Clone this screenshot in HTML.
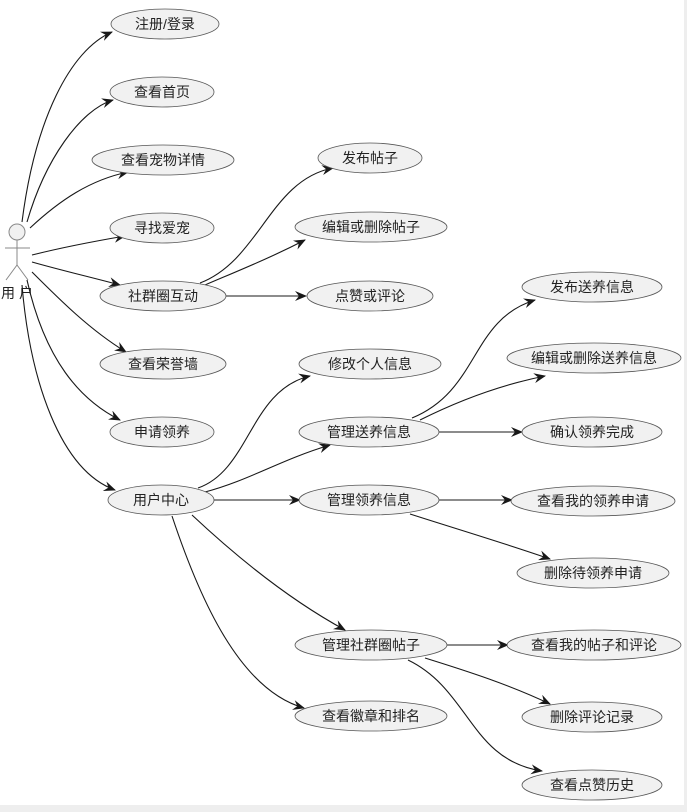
<!DOCTYPE html>
<html><head><meta charset="utf-8"><style>
body{margin:0;background:#fff}
svg{display:block}
text{font-family:"Liberation Sans","Noto Sans CJK SC",sans-serif;font-size:14px;fill:#222;text-anchor:middle;dominant-baseline:central}
.e{fill:#f1f1f1;stroke:#555;stroke-width:0.8}
.l{fill:none;stroke:#181818;stroke-width:1.1;marker-end:url(#a)}
</style></head><body>
<svg width="687" height="812" viewBox="0 0 687 812">
<defs><marker id="a" viewBox="0 0 12 10" refX="11" refY="5" markerWidth="12" markerHeight="10" markerUnits="userSpaceOnUse" orient="auto"><path d="M0,0 L12,5 L0,10 L4,5 Z" fill="#181818"/></marker></defs>
<rect x="0" y="805" width="687" height="7" fill="#eeeeee"/>
<rect x="684" y="0" width="3" height="812" fill="#eeeeee"/>
<g stroke="#888" stroke-width="1" fill="none">
<circle cx="17" cy="232" r="8" fill="#f1f1f1"/>
<line x1="17" y1="240" x2="17" y2="265"/>
<line x1="5" y1="248" x2="30" y2="248"/>
<line x1="17" y1="265" x2="6" y2="280"/>
<line x1="17" y1="265" x2="28" y2="280"/>
</g>
<text x="19" y="293" style="letter-spacing:4px">用户</text>
<path class="l" d="M22,222 C35,120 70,50 112,32"/>
<path class="l" d="M27,222 C45,160 80,110 113,100"/>
<path class="l" d="M30,228 C60,200 90,180 128,172"/>
<path class="l" d="M32,255 C60,248 90,242 125,236"/>
<path class="l" d="M32,262 C60,270 90,277 120,285"/>
<path class="l" d="M32,272 C60,300 90,330 126,352"/>
<path class="l" d="M27,280 C45,360 80,400 120,420"/>
<path class="l" d="M22,285 C30,380 60,470 115,490"/>
<path class="l" d="M200,283 C260,260 270,180 333,168"/>
<path class="l" d="M205,285 C240,270 270,258 305,240"/>
<path class="l" d="M226,296 L306,296"/>
<path class="l" d="M198,488 C250,470 250,390 310,376"/>
<path class="l" d="M205,492 C250,480 280,460 330,445"/>
<path class="l" d="M214,500 L300,500"/>
<path class="l" d="M192,515 C240,560 290,600 345,630"/>
<path class="l" d="M172,516 C200,600 240,690 304,708"/>
<path class="l" d="M412,418 C480,390 470,320 535,300"/>
<path class="l" d="M420,420 C460,400 500,385 545,376"/>
<path class="l" d="M439,432 L522,432"/>
<path class="l" d="M439,500 L512,500"/>
<path class="l" d="M410,514 C460,530 510,545 550,559"/>
<path class="l" d="M447,645 L508,645"/>
<path class="l" d="M425,658 C470,672 510,685 550,704"/>
<path class="l" d="M408,660 C470,690 470,760 542,771"/>
<g>
<ellipse class="e" cx="165" cy="24" rx="54" ry="15"/><text x="165" y="24">注册/登录</text>
<ellipse class="e" cx="162" cy="92" rx="52" ry="15"/><text x="162" y="92">查看首页</text>
<ellipse class="e" cx="163" cy="160" rx="71" ry="15"/><text x="163" y="160">查看宠物详情</text>
<ellipse class="e" cx="162" cy="228" rx="52" ry="15"/><text x="162" y="228">寻找爱宠</text>
<ellipse class="e" cx="163" cy="296" rx="63" ry="15"/><text x="163" y="296">社群圈互动</text>
<ellipse class="e" cx="163" cy="364" rx="63" ry="15"/><text x="163" y="364">查看荣誉墙</text>
<ellipse class="e" cx="162" cy="432" rx="52" ry="15"/><text x="162" y="432">申请领养</text>
<ellipse class="e" cx="161" cy="500" rx="53" ry="15"/><text x="161" y="500">用户中心</text>
<ellipse class="e" cx="370" cy="158" rx="52" ry="15"/><text x="370" y="158">发布帖子</text>
<ellipse class="e" cx="371" cy="227" rx="76" ry="15"/><text x="371" y="227">编辑或删除帖子</text>
<ellipse class="e" cx="370" cy="296" rx="63" ry="15"/><text x="370" y="296">点赞或评论</text>
<ellipse class="e" cx="370" cy="364" rx="71" ry="15"/><text x="370" y="364">修改个人信息</text>
<ellipse class="e" cx="369" cy="432" rx="70" ry="15"/><text x="369" y="432">管理送养信息</text>
<ellipse class="e" cx="369" cy="500" rx="70" ry="15"/><text x="369" y="500">管理领养信息</text>
<ellipse class="e" cx="371" cy="645" rx="76" ry="15"/><text x="371" y="645">管理社群圈帖子</text>
<ellipse class="e" cx="371" cy="716" rx="76" ry="15"/><text x="371" y="716">查看徽章和排名</text>
<ellipse class="e" cx="592" cy="287" rx="70" ry="15"/><text x="592" y="287">发布送养信息</text>
<ellipse class="e" cx="594" cy="358" rx="87" ry="15"/><text x="594" y="358">编辑或删除送养信息</text>
<ellipse class="e" cx="592" cy="432" rx="70" ry="15"/><text x="592" y="432">确认领养完成</text>
<ellipse class="e" cx="593" cy="501" rx="82" ry="15"/><text x="593" y="501">查看我的领养申请</text>
<ellipse class="e" cx="593" cy="573" rx="76" ry="15"/><text x="593" y="573">删除待领养申请</text>
<ellipse class="e" cx="594" cy="645" rx="87" ry="15"/><text x="594" y="645">查看我的帖子和评论</text>
<ellipse class="e" cx="592" cy="717" rx="70" ry="15"/><text x="592" y="717">删除评论记录</text>
<ellipse class="e" cx="592" cy="785" rx="70" ry="15"/><text x="592" y="785">查看点赞历史</text>
</g>
</svg>
</body></html>
